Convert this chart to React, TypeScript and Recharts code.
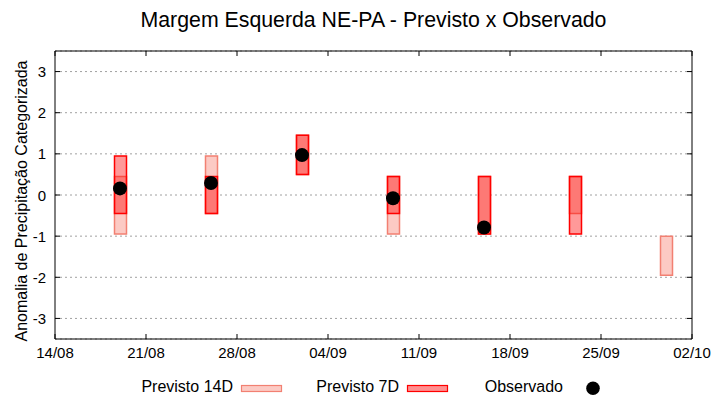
import React from 'react';
import { ComposedChart, Bar, Scatter, XAxis, YAxis, CartesianGrid, Legend } from 'recharts';

const FONT = '"Liberation Sans", Arial, Helvetica, sans-serif';

// forecast dates (labels) and their position in days after 14/08
const categories = ['19/08', '26/08', '02/09', '09/09', '16/09', '23/09', '30/09'];
const dayOffsets = [5, 12, 19, 26, 33, 40, 47];

// Previsto 14D range
const prev14Low = [-0.95, -0.45, 0.5, -0.95, -0.95, -0.45, -1.95];
const prev14High = [0.45, 0.95, 1.45, 0.45, 0.45, 0.45, -1.0];

// Previsto 7D range
const prev7Low: (number | null)[] = [-0.45, -0.45, 0.5, -0.45, -0.95, -0.95, null];
const prev7High: (number | null)[] = [0.95, 0.45, 1.45, 0.45, 0.45, 0.45, null];

// Observado
const observed: (number | null)[] = [0.16, 0.29, 0.97, -0.08, -0.79, null, null];

// axis ticks
const xTickDays = [0, 7, 14, 21, 28, 35, 42, 49];
const xTickLabels = ['14/08', '21/08', '28/08', '04/09', '11/09', '18/09', '25/09', '02/10'];
const yTicks = [-3, -2, -1, 0, 1, 2, 3];

const chartData = categories.map((c, i) => ({
  date: c,
  d: dayOffsets[i],
  f14: [prev14Low[i], prev14High[i]],
  f7: prev7Low[i] == null ? null : [prev7Low[i], prev7High[i]],
}));

const obsData = categories
  .map((c, i) => ({ date: c, d: dayOffsets[i], obs: observed[i] }))
  .filter((o) => o.obs != null);

const TICK_LEN = 5;

const BottomTick = (props: any) => {
  const { x, y, payload } = props;
  const idx = xTickDays.indexOf(payload.value);
  return (
    <g>
      <line x1={x} x2={x} y1={y} y2={y - TICK_LEN} stroke="#000" />
      <text x={x} y={y + 19} textAnchor="middle" fontSize={15} fontFamily={FONT} fill="#000">
        {idx >= 0 ? xTickLabels[idx] : ''}
      </text>
    </g>
  );
};

const TopTick = (props: any) => {
  const { x, y } = props;
  return <line x1={x} x2={x} y1={y} y2={y + TICK_LEN} stroke="#000" />;
};

const LeftTick = (props: any) => {
  const { x, y, payload } = props;
  return (
    <g>
      <line x1={x} x2={x + TICK_LEN} y1={y} y2={y} stroke="#000" />
      <text x={x - 9} y={y + 5.5} textAnchor="end" fontSize={15} fontFamily={FONT} fill="#000">
        {String(payload.value)}
      </text>
    </g>
  );
};

const RightTick = (props: any) => {
  const { x, y } = props;
  return <line x1={x - TICK_LEN} x2={x} y1={y} y2={y} stroke="#000" />;
};

const ObsDot = (props: any) => {
  const { cx, cy } = props;
  if (cx == null || cy == null) return null;
  return <circle cx={cx} cy={cy} r={7} fill="#000" />;
};

const LegendContent = () => (
  <svg width={720} height={20} style={{ display: 'block' }}>
    <text x={233} y={16} textAnchor="end" fontSize={16} fontFamily={FONT} fill="#000">Previsto 14D</text>
    <rect x={241.5} y={9.5} width={40} height={6} fill="#fccac4" stroke="#f28072" strokeWidth={1.2} />
    <text x={399} y={16} textAnchor="end" fontSize={16} fontFamily={FONT} fill="#000">Previsto 7D</text>
    <rect x={407.5} y={9.5} width={40} height={6} fill="#ff8f8f" stroke="#ff0000" strokeWidth={1.2} />
    <text x={563} y={16} textAnchor="end" fontSize={16} fontFamily={FONT} fill="#000">Observado</text>
    <circle cx={593} cy={12.3} r={6.8} fill="#000" />
  </svg>
);

export default function App() {
  return (
    <div style={{ position: 'absolute', left: 0, top: 0, width: 720, height: 400, background: '#fff' }}>
      <ComposedChart
        width={720}
        height={400}
        data={chartData}
        margin={{ top: 46, right: 23, bottom: 11, left: 0 }}
      >
        <CartesianGrid
          xAxisId="b"
          yAxisId="l"
          vertical={false}
          stroke="#a0a0a0"
          strokeDasharray="2 3"
        />
        <XAxis
          xAxisId="b"
          dataKey="d"
          type="number"
          orientation="bottom"
          domain={[0, 49]}
          ticks={xTickDays}
          interval={0}
          allowDataOverflow
          height={30}
          tickSize={0}
          tickMargin={0}
          tickLine={false}
          stroke="#000"
          axisLine={{ stroke: '#000' }}
          tick={<BottomTick />}
        />
        <XAxis
          xAxisId="t"
          dataKey="d"
          type="number"
          orientation="top"
          domain={[0, 49]}
          ticks={xTickDays}
          interval={0}
          allowDataOverflow
          height={5}
          tickSize={0}
          tickMargin={0}
          tickLine={false}
          stroke="#000"
          axisLine={{ stroke: '#000' }}
          tick={<TopTick />}
        />
        <YAxis
          yAxisId="l"
          type="number"
          domain={[-3.5, 3.5]}
          ticks={yTicks}
          interval={0}
          allowDataOverflow
          width={55}
          tickSize={0}
          tickMargin={0}
          tickLine={false}
          stroke="#000"
          axisLine={{ stroke: '#000' }}
          tick={<LeftTick />}
        />
        <YAxis
          yAxisId="r"
          orientation="right"
          type="number"
          domain={[-3.5, 3.5]}
          ticks={yTicks}
          interval={0}
          allowDataOverflow
          width={5}
          tickSize={0}
          tickMargin={0}
          tickLine={false}
          stroke="#000"
          axisLine={{ stroke: '#000' }}
          tick={<RightTick />}
        />
        <Legend
          verticalAlign="bottom"
          content={<LegendContent />}
          wrapperStyle={{ left: 0, bottom: 4, width: 720, height: 20 }}
        />
        <Bar
          xAxisId="b"
          yAxisId="l"
          dataKey="f14"
          name="Previsto 14D"
          barSize={12}
          fill="#fccac4"
          stroke="#f28072"
          strokeWidth={1.5}
          isAnimationActive={false}
        />
        <Bar
          xAxisId="t"
          yAxisId="l"
          dataKey="f7"
          name="Previsto 7D"
          barSize={12}
          fill="rgba(255,0,0,0.4)"
          stroke="#ff0000"
          strokeWidth={1.5}
          isAnimationActive={false}
        />
        <Scatter
          xAxisId="b"
          yAxisId="l"
          data={obsData}
          dataKey="obs"
          name="Observado"
          fill="#000"
          shape={<ObsDot />}
          isAnimationActive={false}
        />
      </ComposedChart>
      <svg
        width={720}
        height={400}
        style={{ position: 'absolute', left: 0, top: 0, pointerEvents: 'none' }}
      >
        <text x={373.5} y={27} textAnchor="middle" fontSize={21.3} fontFamily={FONT} fill="#000">
          Margem Esquerda NE-PA - Previsto x Observado
        </text>
        <text
          transform="translate(26.5,201) rotate(-90)"
          textAnchor="middle"
          fontSize={16}
          fontFamily={FONT}
          fill="#000"
        >
          Anomalia de Precipitação Categorizada
        </text>
      </svg>
    </div>
  );
}
